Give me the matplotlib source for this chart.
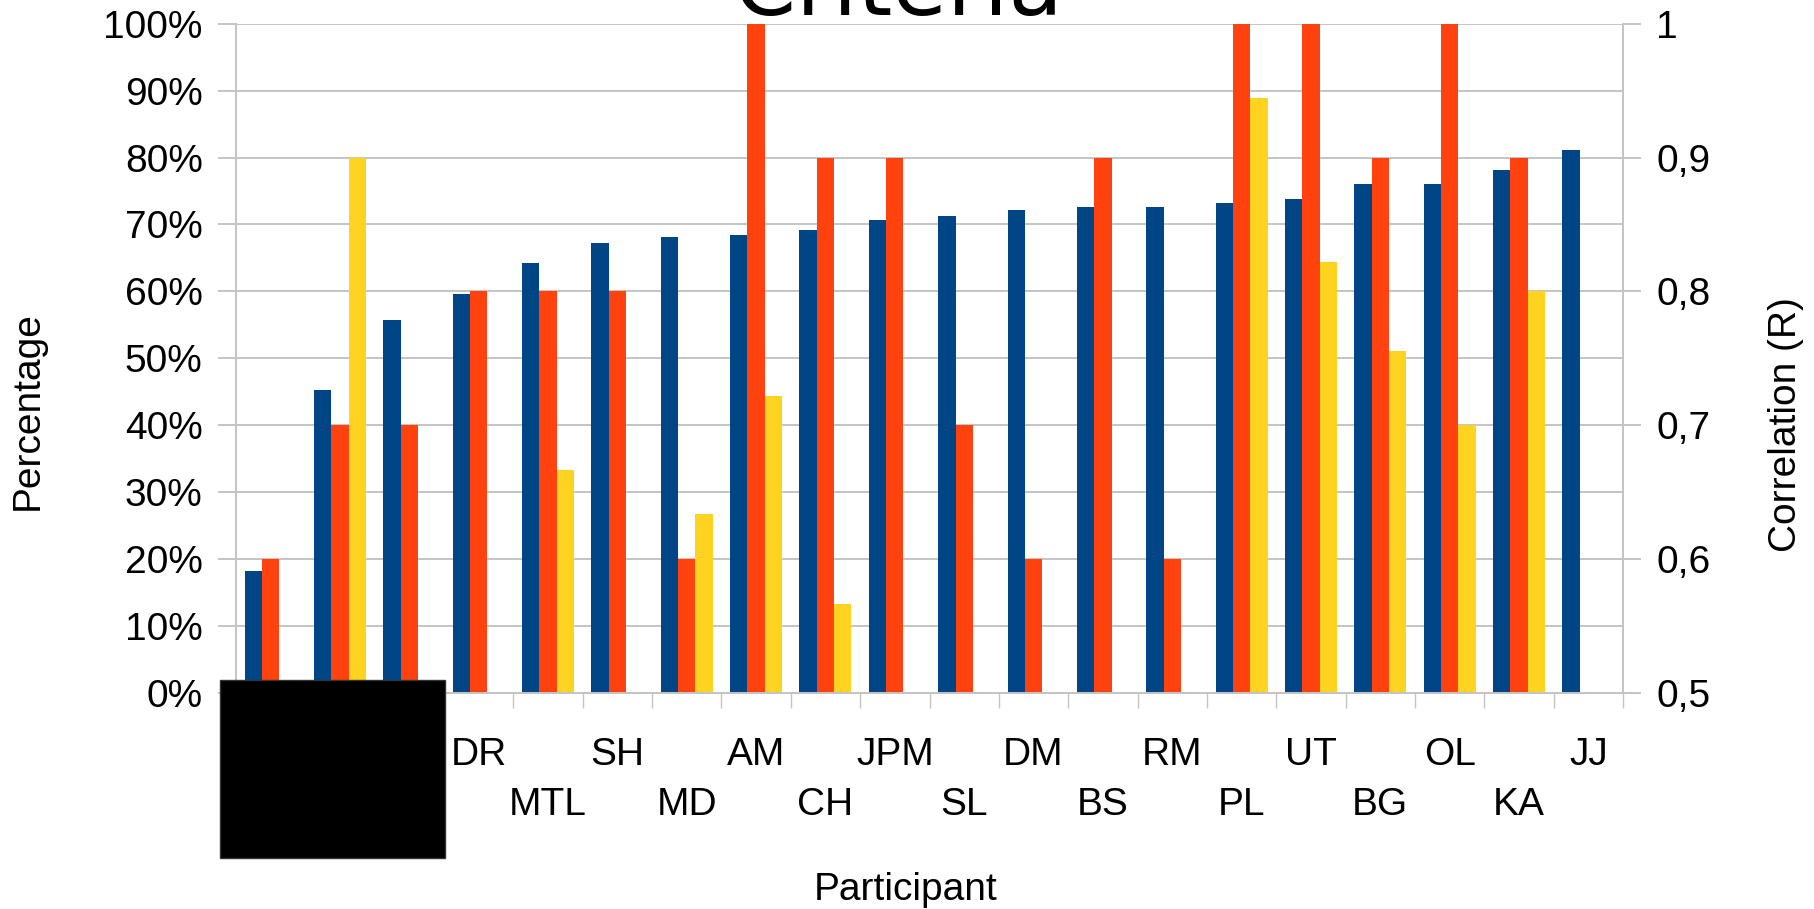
import numpy as np
import matplotlib
matplotlib.use("Agg")
import matplotlib.pyplot as plt
import matplotlib.transforms as mtransforms
from matplotlib.patches import Rectangle

# participants sorted by correlation; first three names are blacked out
participants = ["", "", "", "DR", "MTL", "SH", "MD", "AM", "CH", "JPM",
                "SL", "DM", "BS", "RM", "PL", "UT", "BG", "OL", "KA", "JJ"]
# correlation R (right axis)
correlation = [0.591, 0.726, 0.779, 0.798, 0.821, 0.836, 0.841, 0.842, 0.846, 0.853,
               0.856, 0.861, 0.863, 0.863, 0.866, 0.869, 0.880, 0.880, 0.891, 0.906]
# percentages (left axis), nan = no bar
pct_red = [20, 40, 40, 60, 60, 60, 20, 100, 80, 80,
           40, 20, 80, 20, 100, 100, 80, 100, 80, np.nan]
pct_yellow = [np.nan, 80, np.nan, np.nan, 33.3, np.nan, 26.7, 44.4, 13.3, np.nan,
              np.nan, np.nan, np.nan, np.nan, 88.9, 64.4, 51.1, 40, 60, np.nan]

blue = "#004586"
red = "#ff420e"
yellow = "#ffd320"
grey = "#c4c4c4"

plt.rcParams["font.family"] = ["Liberation Sans", "DejaVu Sans"]

fig = plt.figure(figsize=(18.14, 9.09), dpi=100)
ax = fig.add_axes([236 / 1814, 1 - 693 / 909, (1623 - 236) / 1814, (693 - 23.7) / 909])
ax2 = ax.twinx()

x = np.arange(len(participants))
w = 0.25

ax.bar(x, pct_red, w, color=red, zorder=2)
ax.bar(x + w, pct_yellow, w, color=yellow, zorder=2)
corr = np.array(correlation)
ax2.bar(x - w, corr - 0.5, w, bottom=0.5, color=blue, zorder=2)

ax.set_xlim(-0.5, len(participants) - 0.5)
ax.set_ylim(0, 100)
ax2.set_ylim(0.5, 1.0)

ax.set_yticks(np.arange(0, 101, 10))
ax.set_yticklabels([f"{v}%" for v in range(0, 101, 10)])
r_ticks = [0.5, 0.6, 0.7, 0.8, 0.9, 1.0]
ax2.set_yticks(r_ticks)
ax2.set_yticklabels(["0,5", "0,6", "0,7", "0,8", "0,9", "1"])

ax.set_xticks(np.arange(-0.5, len(participants), 1.0))
ax.set_xticklabels([])

ax.yaxis.grid(True, color=grey, linewidth=1.4)
ax.set_axisbelow(True)

for a in (ax, ax2):
    for side in ("top",):
        a.spines[side].set_visible(False)
    for side in ("left", "right", "bottom"):
        a.spines[side].set_color(grey)
        a.spines[side].set_linewidth(1.4)
ax.tick_params(axis="y", length=13, width=1.4, color=grey, labelsize=28, pad=11)
ax2.tick_params(axis="y", length=13, width=1.4, color=grey, labelsize=28, pad=11)
ax.tick_params(axis="x", length=11, width=1.0, color=grey)

# participant names staggered over two rows
trans = mtransforms.blended_transform_factory(ax.transData, fig.transFigure)
for i, name in enumerate(participants):
    yrow = 1 - 765 / 909 if i % 2 == 1 else 1 - 815 / 909
    ax.text(i, yrow, name, transform=trans, ha="center", va="baseline", fontsize=28)

fig.text(28 / 1814, 1 - 411 / 909, "Percentage", rotation=90, ha="center", va="center", fontsize=28)
fig.text(1786 / 1814, 1 - 425 / 909, "Correlation (R)", rotation=90, ha="center", va="center", fontsize=28)
fig.text(906 / 1814, 1 - 900 / 909, "Participant", ha="center", va="baseline", fontsize=28)
fig.text(898 / 1814, 1 - 15 / 909, "Criteria", ha="center", va="baseline", fontsize=64,
         family="DejaVu Sans")

# redaction box over the first names
fig.add_artist(Rectangle((220 / 1814, 1 - 858 / 909), 225 / 1814, 178 / 909,
                         transform=fig.transFigure, facecolor="black", edgecolor="#333333",
                         linewidth=1, zorder=10))

fig.savefig("out.png", dpi=100)
